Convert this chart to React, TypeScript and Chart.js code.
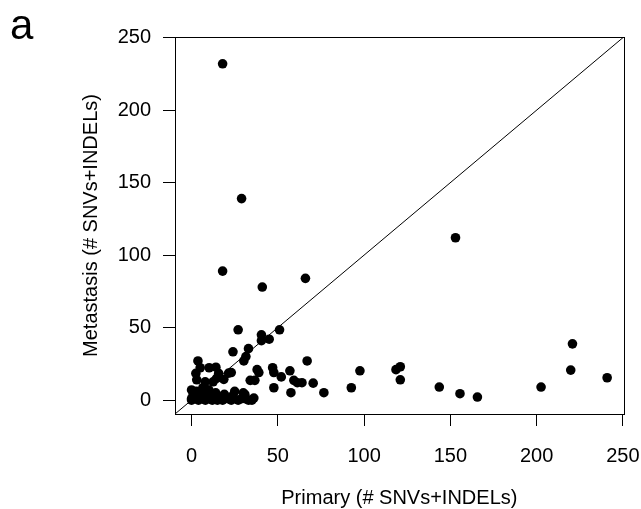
import React, { useEffect, useRef } from "react";
import { Chart, registerables } from "chart.js";

Chart.register(...registerables);

// ---- Data ----
const PRIMARY = [
  18, 29, 18, 66, 41, 153,
  27, 40.5, 45, 51, 40.5, 24, 33, 31.5, 30.3, 67,
  3.7, 5, 10.2, 14.1, 2.5, 15.7, 21.5, 23, 18.7, 7.9, 12.5, 14.5, 3,
  38, 39, 34, 36.7, 47, 47.7, 52, 57, 59.3, 61.3, 64, 70.5, 57.6, 47.7, 76.7, 92.6, 97.6, 36.1, 30.9, 6.6,
  118.5, 121, 121, 143.6, 155.6, 165.7, 202.6, 219.8, 220.8, 240.9,
  0, 0, 0, 1, 2, 3, 4, 5, 6, 7, 8, 9, 10, 11, 12, 13, 14, 15, 16, 18, 19, 21, 23, 24, 25, 27, 29, 30, 31, 33, 35,
];
const METASTASIS = [
  232, 139, 89, 84, 78, 112,
  48.5, 45, 42, 48.5, 41, 33.3, 35.5, 30, 27, 27,
  27, 22.3, 22.3, 22.7, 18.4, 18.4, 18.6, 19, 14.3, 12.6, 12.6, 15, 14,
  21, 19, 13.6, 13.6, 22.3, 19, 16, 20.2, 13.6, 12, 12, 11.7, 5.1, 8.5, 5.1, 8.5, 20.2, 1.4, 3.9, 8.5,
  21, 23, 14, 9, 4.4, 2.1, 9, 20.7, 38.8, 15.4,
  0, 7, 1, 4, 2, 6, 0, 3, 6, 1, 0, 4, 7, 1, 0, 3, 5, 0, 2, 0, 4, 1, 0, 3, 6, 0, 1, 5, 1, 0, 0,
];
const TICKS = [0, 50, 100, 150, 200, 250];
const AXIS_MIN = -9.6;
const AXIS_MAX = 250.5;
const DIAGONAL = [-20, 270]; // y = x reference line
const X_TITLE = "Primary (# SNVs+INDELs)";
const Y_TITLE = "Metastasis (# SNVs+INDELs)";
const PANEL_LABEL = "a";

const FONT = "'Liberation Sans', Arial, Helvetica, sans-serif";
const W = 641;
const H = 509;

const decorPlugin = {
  id: "decor",
  afterDraw(chart: any) {
    const { ctx, chartArea } = chart;
    const { left, right, top, bottom } = chartArea;
    ctx.save();
    // box
    ctx.strokeStyle = "#000";
    ctx.lineWidth = 1;
    ctx.strokeRect(Math.round(left) + 0.5, Math.round(top) + 0.5, Math.round(right) - Math.round(left), Math.round(bottom) - Math.round(top));
    // titles
    ctx.fillStyle = "#000";
    ctx.font = `20px ${FONT}`;
    ctx.textAlign = "center";
    ctx.textBaseline = "alphabetic";
    ctx.fillText(X_TITLE, (left + right) / 2, 504);
    ctx.save();
    ctx.translate(97, (top + bottom) / 2);
    ctx.rotate(-Math.PI / 2);
    ctx.fillText(Y_TITLE, 0, 0);
    ctx.restore();
    // panel label
    ctx.font = `42px ${FONT}`;
    ctx.textAlign = "left";
    ctx.fillText(PANEL_LABEL, 10, 39);
    ctx.restore();
  },
};

export default function App() {
  const ref = useRef<HTMLCanvasElement | null>(null);

  useEffect(() => {
    if (!ref.current) return;
    const points = PRIMARY.map((x, i) => ({ x, y: METASTASIS[i] }));
    const diag = DIAGONAL.map((v) => ({ x: v, y: v }));
    const setTicks = (scale: any) => {
      scale.ticks = TICKS.map((v) => ({ value: v }));
    };
    const chart = new Chart(ref.current, {
      type: "scatter",
      data: {
        datasets: [
          {
            type: "line",
            data: diag,
            borderColor: "#000",
            borderWidth: 1,
            pointRadius: 0,
            fill: false,
          } as any,
          {
            data: points,
            backgroundColor: "#000",
            borderWidth: 0,
            pointRadius: 4.8,
            pointHoverRadius: 4.8,
            clip: false,
          } as any,
        ],
      },
      options: {
        animation: false,
        responsive: false,
        devicePixelRatio: 1,
        layout: { padding: { left: 0, top: 37, right: 17.3, bottom: 0 } },
        plugins: { legend: { display: false }, tooltip: { enabled: false } },
        scales: {
          x: {
            type: "linear",
            min: AXIS_MIN,
            max: AXIS_MAX,
            afterBuildTicks: setTicks,
            afterFit: (s: any) => {
              s.height = H - 414;
              s.paddingLeft = 0;
              s.paddingRight = 0;
            },
            border: { display: false },
            grid: { drawOnChartArea: false, drawTicks: true, tickLength: 12, color: "#000", lineWidth: 1 },
            ticks: { color: "#000", font: { size: 20, family: FONT }, padding: 18, maxRotation: 0 },
          },
          y: {
            type: "linear",
            min: AXIS_MIN,
            max: AXIS_MAX,
            afterBuildTicks: setTicks,
            afterFit: (s: any) => {
              s.width = 175;
              s.paddingTop = 0;
              s.paddingBottom = 0;
            },
            border: { display: false },
            grid: { drawOnChartArea: false, drawTicks: true, tickLength: 12, color: "#000", lineWidth: 1 },
            ticks: { color: "#000", font: { size: 20, family: FONT }, padding: 12 },
          },
        },
      },
      plugins: [decorPlugin],
    });
    return () => chart.destroy();
  }, []);

  return (
    <div style={{ position: "fixed", left: 0, top: 0, width: W, height: H, background: "#fff" }}>
      <canvas ref={ref} width={W} height={H} style={{ width: W, height: H, display: "block" }} />
    </div>
  );
}
